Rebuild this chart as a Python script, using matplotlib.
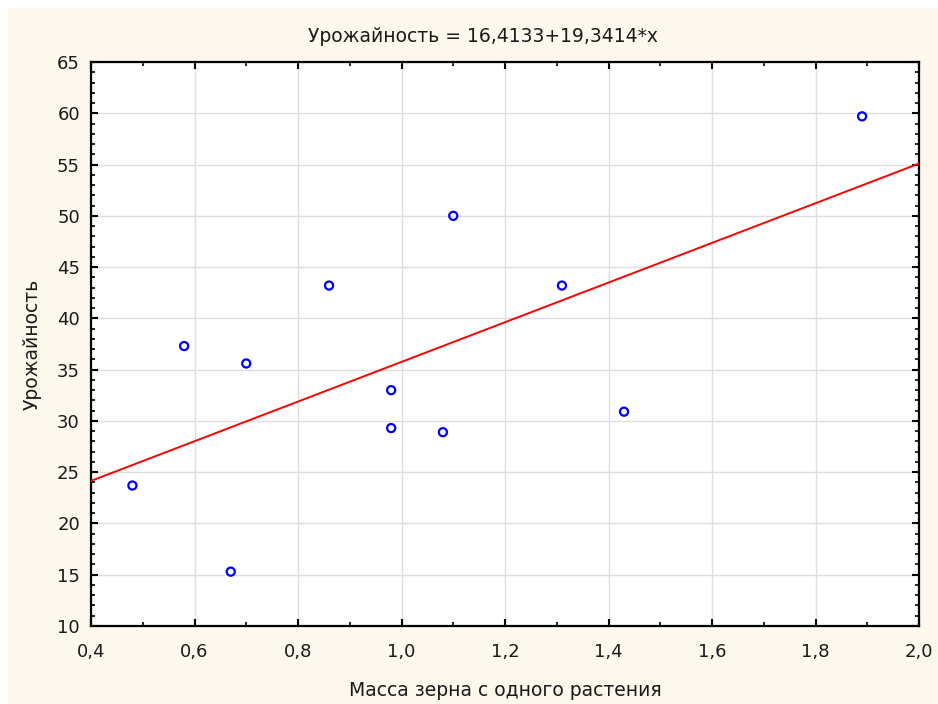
import numpy as np
import matplotlib.pyplot as plt
from matplotlib.patches import Rectangle
from matplotlib.ticker import MultipleLocator, FuncFormatter

plt.rcParams['font.family'] = ['DejaVu Sans']

# Масса зерна с одного растения и урожайность
massa = [0.48, 0.58, 0.67, 0.70, 0.86, 0.98, 0.98, 1.08, 1.10, 1.31, 1.43, 1.89]
urozh = [23.7, 37.3, 15.3, 35.6, 43.2, 33.0, 29.3, 28.9, 50.0, 43.2, 30.9, 59.7]

# коэффициенты регрессии
b0 = 16.4133
b1 = 19.3414

fig = plt.figure(figsize=(9.38, 7.04), dpi=100, facecolor='white')
fig.patches.append(Rectangle((8 / 938, 0), 1, 1 - 8 / 704, transform=fig.transFigure,
                             facecolor='#fdf8ee', edgecolor='none', zorder=-10))

ax = fig.add_axes([91 / 938, 1 - 626 / 704, 828 / 938, 564 / 704])
ax.set_facecolor('white')

xs = np.array([0.4, 2.0])
ax.plot(xs, b0 + b1 * xs, color='#ff0000', lw=1.4, zorder=3)
ax.scatter(massa, urozh, s=34, facecolors='none', edgecolors='#0000ff', linewidths=1.6, zorder=4)

ax.set_xlim(0.4, 2.0)
ax.set_ylim(10, 65)
ax.xaxis.set_major_locator(MultipleLocator(0.2))
ax.xaxis.set_minor_locator(MultipleLocator(0.1))
ax.yaxis.set_major_locator(MultipleLocator(5))
ax.yaxis.set_minor_locator(MultipleLocator(1))
ax.xaxis.set_major_formatter(FuncFormatter(lambda v, p: f'{v:.1f}'.replace('.', ',')))
ax.yaxis.set_major_formatter(FuncFormatter(lambda v, p: f'{v:.0f}'))

ax.grid(True, which='major', color='#dedede', lw=1)
ax.set_axisbelow(True)
ax.tick_params(which='both', direction='in', top=True, right=True, color='black',
               labelsize=13, colors='#1a1a1a')
ax.tick_params(axis='x', which='major', pad=12)
ax.tick_params(axis='y', which='major', pad=8)
ax.tick_params(which='major', length=5, width=1.5)
ax.tick_params(which='minor', length=3, width=1.2)
for sp in ax.spines.values():
    sp.set_linewidth(1.6)
    sp.set_color('black')

fig.text(483 / 938, 1 - 37 / 704, 'Урожайность = 16,4133+19,3414*x', fontsize=13.5,
         ha='center', va='center', color='#1a1a1a')
ax.set_xlabel('Масса зерна с одного растения', fontsize=13.5, labelpad=15, color='#1a1a1a')
ax.set_ylabel('Урожайность', fontsize=13.5, labelpad=11, color='#1a1a1a')

fig.savefig('out.png', dpi=100, facecolor=fig.get_facecolor())
